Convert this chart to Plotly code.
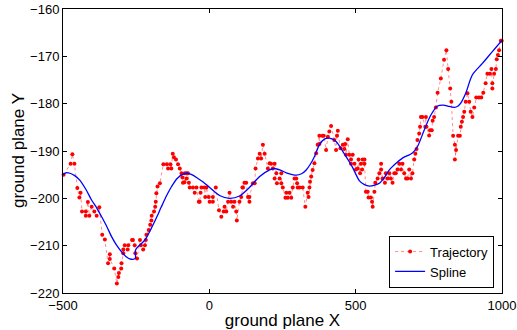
import plotly.graph_objects as go

traj_x = [-498, -474, -468, -461, -451, -444, -440, -435, -422, -422, -415, -410, -402, -393, -385, -376,
          -366, -357, -346, -340, -340, -325, -316, -311, -309, -301, -300, -294, -294, -289, -279, -277,
          -264, -261, -255, -253, -247, -237, -234, -226, -220, -217, -215, -207, -202, -198, -197, -189,
          -185, -183, -181, -177, -169, -157, -145, -141, -133, -130, -125, -121, -114, -107, -101, -95,
          -92, -90, -84, -78, -85, -78, -73, -70, -67, -56, -50, -44, -36, -33, -30, -27, -17, -14, -10,
          -2, 1, 12, 12, 22, 33, 41, 49, 52, 58, 64, 69, 75, 81, 86, 92, 94, 103, 109, 113, 115, 120, 126,
          132, 137, 137, 149, 155, 158, 166, 172, 177, 183, 189, 200, 206, 211, 217, 223, 229, 223, 231,
          240, 246, 246, 251, 260, 263, 268, 274, 280, 285, 291, 297, 300, 302, 308, 319, 328, 336, 339,
          342, 344, 348, 353, 359, 365, 370, 376, 376, 387, 391, 399, 405, 410, 416, 427, 433, 436, 439,
          448, 456, 461, 464, 467, 473, 478, 484, 490, 484, 496, 501, 507, 510, 515, 518, 522, 524, 530,
          530, 535, 541, 544, 552, 556, 558, 564, 567, 575, 581, 587, 587, 592, 600, 603, 609, 615, 620,
          626, 632, 637, 643, 649, 655, 660, 666, 672, 677, 683, 689, 694, 700, 704, 708, 711, 717, 720,
          723, 728, 738, 740, 742, 751, 754, 760, 763, 768, 774, 780, 791, 802, 810, 816, 823, 827, 833,
          839, 843, 839, 850, 856, 859, 863, 867, 871, 876, 882, 888, 893, 899, 905, 912, 921, 929, 936,
          944, 950, 959, 964, 967, 967, 973, 979, 982, 986, 990, 996, 999]
traj_y = [-195, -192.7, -190.7, -192.7, -197.8, -199.8, -198.8, -202.8, -202.8, -203.7, -200.8, -203.7,
          -201.8, -202.8, -203.7, -201.9, -207.7, -208.7, -213.7, -211.8, -212.8, -214.8, -218, -216.6,
          -215.8, -214.8, -213.7, -211.6, -210.8, -209.9, -210.8, -209.9, -208.8, -208.8, -209.9, -211.6,
          -212.7, -208.8, -209.9, -210.8, -209.9, -208.8, -207.7, -206.7, -205.6, -204.7, -203.7, -202.8,
          -201.8, -200.7, -198.9, -197.5, -196.8, -192.8, -192.8, -193.7, -192.8, -193.7, -190.6, -191.3,
          -191.8, -192.8, -193.7, -194.7, -195.6, -196.7, -194.7, -194.7, -196.6, -195.8, -194.7, -196.7,
          -197.7, -197.7, -198.8, -197.7, -200.7, -200.7, -198.8, -197.7, -197.7, -199.7, -197.7, -199.7,
          -200.7, -200.7, -199.7, -197.7, -202.5, -203.9, -202.8, -201.8, -202.8, -200.7, -198.8, -200.7,
          -201.8, -200.7, -202.8, -204.7, -200.7, -199.7, -197.7, -197.7, -196.7, -196.7, -199.7, -200.7,
          -199.7, -196.8, -196.8, -193.7, -191.6, -190.6, -191.6, -188.7, -190.6, -193.7, -192.6, -192.7,
          -193.7, -192.7, -194.7, -195.8, -196.8, -195.8, -194.7, -196.8, -197.7, -199.9, -198.8, -199.9,
          -198.8, -199.9, -197.7, -195.8, -195.8, -196.8, -197.7, -197.7, -197.7, -201.8, -198.8, -199.7,
          -197.7, -196.5, -195.4, -194.0, -192.6, -190.5, -188.7, -186.8, -188.5, -186.8, -186.8, -189.8,
          -187.0, -185.9, -184.7, -187.7, -189.8, -186.8, -185.7, -189.4, -188.7, -189.6, -188.5, -190.8,
          -187.5, -190.8, -191.8, -190.8, -192.7, -192.7, -193.9, -193.7, -191.8, -194.7, -192.7, -193.9,
          -191.8, -191.8, -192.7, -198.6, -198.6, -199.8, -199.8, -200.7, -201.8, -198.6, -196.7, -195.8,
          -194.7, -192.7, -193.9, -195.8, -196.7, -194.7, -195.8, -194.7, -195.8, -196.7, -194.7, -194.7,
          -193.9, -192.7, -193.9, -192.7, -194.7, -195.8, -195.8, -193.9, -195.8, -194.7, -191.8, -190.6,
          -189.6, -187.7, -186.3, -184.9, -182.8, -182.8, -184.9, -182.8, -184.9, -186.7, -185.6, -185.6,
          -183.6, -182.8, -180.8, -177.7, -174.7, -170.7, -168.7, -172.7, -176.8, -179.6, -186.8, -188.7,
          -189.8, -191.8, -186.8, -186.8, -184.9, -183.8, -182.8, -181.7, -179.6, -177.8, -179.6, -181.7,
          -182.8, -180.8, -178.7, -178.7, -178.7, -177.7, -175.7, -173.7, -173.7, -172.7, -175.7, -176.8,
          -173.7, -172.7, -170.6, -169.7, -168.7, -166.7, -166.7]

spline_x = [-500, -490, -476, -460, -442, -420, -402, -385, -368, -350, -334, -317, -300, -285, -272,
            -262, -253, -252, -240, -220, -198, -180, -164, -145, -129, -110, -90, -76, -60, -39, -20, 1,
            35, 69, 103, 137, 172, 206, 223, 245, 263, 297, 315, 331, 345, 359, 376, 393, 410, 433, 458,
            488, 513, 530, 547, 565, 581, 598, 615, 638, 660, 694, 711, 734, 757, 780, 800, 814, 837, 850,
            859, 876, 899, 933, 967, 996, 1000]
spline_y = [-195.0, -194.6, -194.7, -195.2, -196.2, -198.3, -200.4, -202.0, -203.9, -206.0, -208.1,
            -209.9, -211.3, -212.3, -212.8, -212.9, -212.7, -210.9, -210.0, -208.8, -206.3, -204.0, -201.8,
            -199.3, -197.5, -195.8, -194.9, -194.7, -195.0, -195.8, -196.6, -197.7, -199.4, -200.0, -199.5,
            -197.7, -195.4, -194.0, -193.7, -194.1, -194.6, -195.1, -194.8, -194.0, -192.8, -191.2, -188.7,
            -187.5, -187.3, -188.0, -190.3, -193.3, -196.3, -197.1, -197.4, -197.2, -196.8, -195.6, -194.0,
            -192.6, -191.5, -190.4, -189.1, -185.6, -182.4, -180.5, -180.3, -180.5, -180.8, -180.5, -179.9,
            -177.8, -173.9, -171.5, -169.0, -166.9, -166.6]

x_ticks = [-500, 0, 500, 1000]
y_ticks = [-220, -210, -200, -190, -180, -170, -160]

FONT = "Liberation Sans, Arial, Helvetica, sans-serif"

fig = go.Figure()
fig.add_trace(go.Scatter(
    x=traj_x, y=traj_y, mode="lines+markers", name="Trajectory",
    line=dict(color="rgba(255,0,0,0.45)", width=1, dash="dot"),
    marker=dict(color="#ff0000", size=4, line=dict(width=0)),
    cliponaxis=False,
))
fig.add_trace(go.Scatter(
    x=spline_x, y=spline_y, mode="lines", name="Spline",
    line=dict(color="#0000ff", width=1.3, shape="spline", smoothing=0.8),
))

axis_common = dict(
    showgrid=False, zeroline=False, showline=True, linecolor="black", linewidth=1,
    mirror="ticks", ticks="inside", ticklen=4, tickcolor="black", tickwidth=1,
    tickfont=dict(family=FONT, size=13, color="black"), automargin=False,
)
fig.update_xaxes(range=[-500, 1000], tickvals=x_ticks,
                 ticktext=[f"\u2212{abs(v)}" if v < 0 else str(v) for v in x_ticks],
                 title=dict(text="ground plane X", font=dict(family=FONT, size=17, color="black")),
                 **axis_common)
fig.update_yaxes(range=[-220, -160], tickvals=y_ticks,
                 ticktext=[f"\u2212{abs(v)}" for v in y_ticks],
                 **axis_common)

fig.add_annotation(text="ground plane Y", textangle=-90, xref="paper", yref="paper",
                   x=0, y=0.5, xanchor="center", yanchor="middle", xshift=-45, showarrow=False,
                   font=dict(family=FONT, size=17, color="black"))

fig.update_layout(
    width=517, height=330,
    margin=dict(l=63, r=15, t=9, b=37, autoexpand=False),
    paper_bgcolor="white", plot_bgcolor="white",
    showlegend=True,
    legend=dict(x=0.982, y=0.019, xanchor="right", yanchor="bottom",
                bgcolor="white", bordercolor="black", borderwidth=1,
                font=dict(family=FONT, size=13, color="black"),
                itemwidth=30, tracegroupgap=0),
)
fig.write_html("out.html", config={"displayModeBar": False},
               post_script="document.body.style.margin='0';document.body.style.overflow='hidden';")
